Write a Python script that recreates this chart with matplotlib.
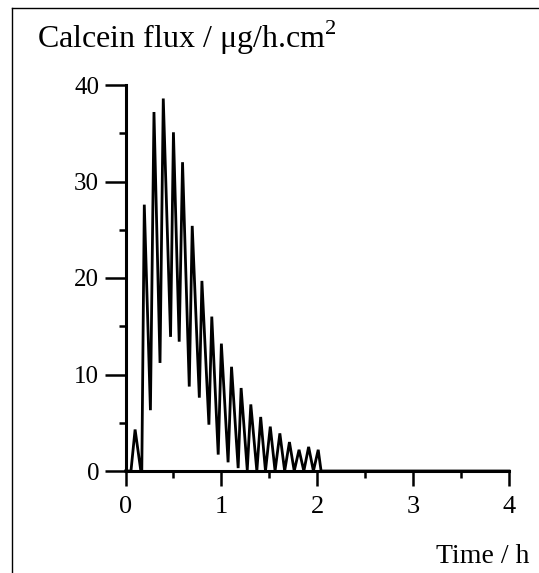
import matplotlib
matplotlib.use("Agg")
import matplotlib.pyplot as plt
from matplotlib.ticker import MultipleLocator
from matplotlib.lines import Line2D

# Time (h) and calcein flux (ug/h.cm2)
time_h = [0.0, 0.057, 0.10, 0.16, 0.17, 0.196, 0.26, 0.297, 0.36, 0.394, 0.47,
          0.50, 0.56, 0.595, 0.665, 0.696, 0.77, 0.797, 0.87, 0.90, 0.967,
          1.0, 1.07, 1.106, 1.175, 1.206, 1.27, 1.307, 1.37, 1.41, 1.46,
          1.51, 1.56, 1.61, 1.66, 1.71, 1.76, 1.81, 1.86, 1.91, 1.96,
          2.01, 2.04, 4.0]
flux = [0.0, 0.0, 4.3, 0.0, 0.0, 27.6, 6.3, 37.2, 11.2, 38.6, 13.9,
        35.1, 13.4, 32.0, 8.75, 25.4, 7.6, 19.7, 4.8, 16.0, 1.7,
        13.2, 0.9, 10.8, 0.3, 8.6, 0.1, 6.9, 0.0, 5.6, 0.0,
        4.6, 0.0, 3.9, 0.0, 3.0, 0.0, 2.2, 0.0, 2.5, 0.0,
        2.2, 0.0, 0.0]

x_major = [0, 1, 2, 3, 4]
y_major = [0, 10, 20, 30, 40]

plt.rcParams['font.family'] = ['Liberation Serif', 'DejaVu Serif']

W, H = 539, 573
fig = plt.figure(figsize=(W / 100, H / 100), dpi=100)
ax = fig.add_axes([125.5 / W, (H - 471) / H, (509 - 125.5) / W, (471 - 85) / H])

ax.plot(time_h, flux, color='black', lw=2.0, clip_on=False, solid_joinstyle='miter')

ax.set_xlim(0, 4)
ax.set_ylim(0, 40)
ax.set_xticks(x_major)
ax.set_yticks(y_major)
ax.xaxis.set_minor_locator(MultipleLocator(0.5))
ax.yaxis.set_minor_locator(MultipleLocator(5))
for s in ['top', 'right']:
    ax.spines[s].set_visible(False)
for s in ['left', 'bottom']:
    ax.spines[s].set_linewidth(2.2)
ax.tick_params(axis='y', which='major', direction='out', length=15, width=1.8,
               labelsize=18, pad=4)
ax.tick_params(axis='x', which='major', direction='out', length=11, width=1.8,
               labelsize=19, pad=7)
ax.tick_params(which='minor', direction='out', length=5, width=1.8)

fig.text(37 / W, 1 - 48 / H, r'Calcein flux / $\mathregular{\mu}$g/h.cm$^{\mathregular{2}}$',
         fontsize=23, ha='left', va='baseline')
fig.text(529 / W, 1 - 563 / H, 'Time / h', fontsize=20, ha='right', va='baseline')

# page frame
fig.add_artist(Line2D([12 / W, 12 / W], [0, 1 - 8 / H], transform=fig.transFigure,
                      color='black', lw=1.0))
fig.add_artist(Line2D([12 / W, 1], [1 - 8 / H, 1 - 8 / H], transform=fig.transFigure,
                      color='black', lw=1.0))

fig.savefig('out.png', dpi=100)
